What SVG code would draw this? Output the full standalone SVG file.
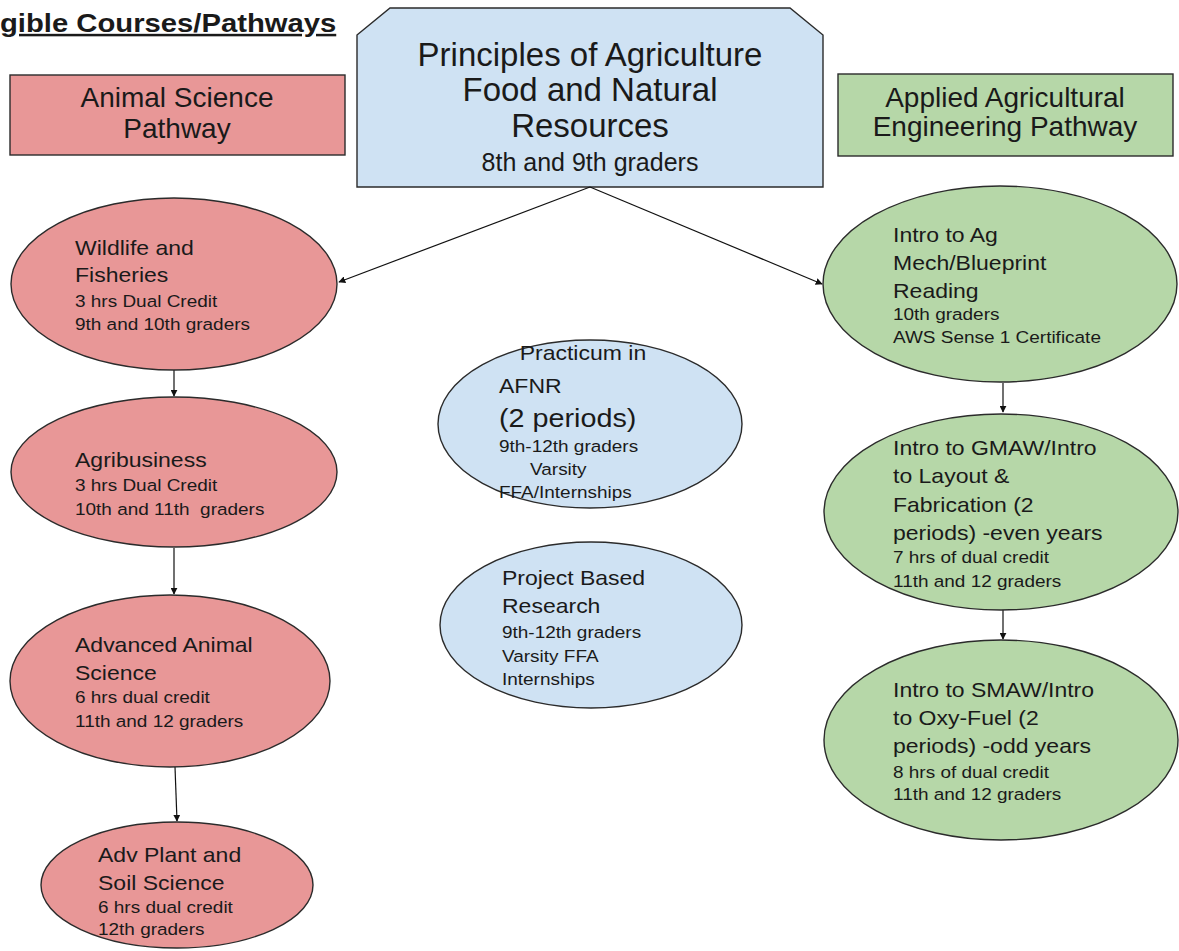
<svg xmlns="http://www.w3.org/2000/svg" width="1179" height="951" viewBox="0 0 1179 951">
<style>
text{font-family:"Liberation Sans",Arial,sans-serif;fill:#1a1a1a}
.red{fill:#e89797;stroke:#2b2b2b;stroke-width:1.4}
.blue{fill:#cfe2f3;stroke:#2b2b2b;stroke-width:1.4}
.green{fill:#b6d7a8;stroke:#2b2b2b;stroke-width:1.4}
.big{font-size:20px}
.sm{font-size:16.5px}
.hdr{font-size:28px;text-anchor:middle}
.conn line{stroke:#111;stroke-width:1.2;marker-end:url(#ah)}
</style>
<defs>
<marker id="ah" viewBox="0 0 10 10" refX="9" refY="5" markerWidth="7" markerHeight="7" markerUnits="userSpaceOnUse" orient="auto">
<path d="M0,0 L10,5 L0,10 z" fill="#111"/>
</marker>
</defs>
<rect width="1179" height="951" fill="#ffffff"/>
<g id="title">
<text x="0" y="32" transform="scale(1.17,1)" style="font-size:25px;font-weight:bold;text-decoration:underline" fill="#000">gible Courses/Pathways</text>
</g>
<g id="animal-science">
<rect class="red" x="10" y="75" width="335" height="80"/>
<text class="hdr" x="177" y="107">Animal Science</text>
<text class="hdr" x="177" y="138">Pathway</text>
</g>
<g id="principles">
<polygon class="blue" points="357,35 390,8 790,8 823,35 823,187 357,187"/>
<text x="590" y="66" style="font-size:33px;text-anchor:middle">Principles of Agriculture</text>
<text x="590" y="101" style="font-size:33px;text-anchor:middle">Food and Natural</text>
<text x="590" y="137" style="font-size:33px;text-anchor:middle">Resources</text>
<text x="590" y="171" style="font-size:25px;text-anchor:middle">8th and 9th graders</text>
</g>
<g id="engineering">
<rect class="green" x="838" y="74" width="335" height="82"/>
<text class="hdr" x="1005" y="107">Applied Agricultural</text>
<text class="hdr" x="1005" y="136">Engineering Pathway</text>
</g>
<g class="conn" id="connectors">
<line x1="590" y1="187" x2="339" y2="282"/>
<line x1="590" y1="187" x2="822" y2="284"/>
<line x1="174" y1="370" x2="174" y2="396"/>
<line x1="174" y1="548" x2="174" y2="594"/>
<line x1="175" y1="767" x2="177" y2="821"/>
<line x1="1003" y1="383" x2="1003" y2="412"/>
<line x1="1003" y1="610" x2="1003" y2="639"/>
</g>
<g id="wildlife">
<ellipse class="red" cx="174" cy="284" rx="163" ry="86"/>
<g transform="translate(75,0) scale(1.15,1)">
<text class="big" x="0" y="255">Wildlife and</text>
<text class="big" x="0" y="282">Fisheries</text>
<text class="sm" x="0" y="307">3 hrs Dual Credit</text>
<text class="sm" x="0" y="330">9th and 10th graders</text>
</g>
</g>
<g id="agribusiness">
<ellipse class="red" cx="174" cy="472" rx="163" ry="75"/>
<g transform="translate(75,0) scale(1.15,1)">
<text class="big" x="0" y="467">Agribusiness</text>
<text class="sm" x="0" y="491">3 hrs Dual Credit</text>
<text class="sm" x="0" y="515" xml:space="preserve">10th and 11th  graders</text>
</g>
</g>
<g id="advanced-animal">
<ellipse class="red" cx="170" cy="681" rx="160" ry="86"/>
<g transform="translate(75,0) scale(1.15,1)">
<text class="big" x="0" y="652">Advanced Animal</text>
<text class="big" x="0" y="680">Science</text>
<text class="sm" x="0" y="703">6 hrs dual credit</text>
<text class="sm" x="0" y="727">11th and 12 graders</text>
</g>
</g>
<g id="adv-plant">
<ellipse class="red" cx="177" cy="885" rx="136" ry="63"/>
<g transform="translate(98,0) scale(1.15,1)">
<text class="big" x="0" y="862">Adv Plant and</text>
<text class="big" x="0" y="890">Soil Science</text>
<text class="sm" x="0" y="913">6 hrs dual credit</text>
<text class="sm" x="0" y="935">12th graders</text>
</g>
</g>
<g id="practicum">
<ellipse class="blue" cx="590" cy="424" rx="152" ry="84"/>
<g transform="translate(499,0) scale(1.15,1)">
<text class="big" x="18" y="360">Practicum in</text>
<text class="big" x="0" y="393">AFNR</text>
<text x="0" y="427" style="font-size:25px">(2 periods)</text>
<text class="sm" x="0" y="452">9th-12th graders</text>
<text class="sm" x="27" y="475">Varsity</text>
<text class="sm" x="0" y="498">FFA/Internships</text>
</g>
</g>
<g id="project">
<ellipse class="blue" cx="591" cy="625" rx="151" ry="83"/>
<g transform="translate(502,0) scale(1.15,1)">
<text class="big" x="0" y="585">Project Based</text>
<text class="big" x="0" y="613">Research</text>
<text class="sm" x="0" y="638">9th-12th graders</text>
<text class="sm" x="0" y="662">Varsity FFA</text>
<text class="sm" x="0" y="685">Internships</text>
</g>
</g>
<g id="intro-ag-mech">
<ellipse class="green" cx="1000" cy="284" rx="177" ry="98"/>
<g transform="translate(893,0) scale(1.15,1)">
<text class="big" x="0" y="242">Intro to Ag</text>
<text class="big" x="0" y="270">Mech/Blueprint</text>
<text class="big" x="0" y="298">Reading</text>
<text class="sm" x="0" y="320">10th graders</text>
<text class="sm" x="0" y="343">AWS Sense 1 Certificate</text>
</g>
</g>
<g id="intro-gmaw">
<ellipse class="green" cx="1001" cy="512" rx="177" ry="98"/>
<g transform="translate(893,0) scale(1.15,1)">
<text class="big" x="0" y="455">Intro to GMAW/Intro</text>
<text class="big" x="0" y="483">to Layout &amp;</text>
<text class="big" x="0" y="512">Fabrication (2</text>
<text class="big" x="0" y="540">periods) -even years</text>
<text class="sm" x="0" y="563">7 hrs of dual credit</text>
<text class="sm" x="0" y="587">11th and 12 graders</text>
</g>
</g>
<g id="intro-smaw">
<ellipse class="green" cx="1001" cy="740" rx="177" ry="100"/>
<g transform="translate(893,0) scale(1.15,1)">
<text class="big" x="0" y="697">Intro to SMAW/Intro</text>
<text class="big" x="0" y="725">to Oxy-Fuel (2</text>
<text class="big" x="0" y="753">periods) -odd years</text>
<text class="sm" x="0" y="778">8 hrs of dual credit</text>
<text class="sm" x="0" y="800">11th and 12 graders</text>
</g>
</g>
</svg>
